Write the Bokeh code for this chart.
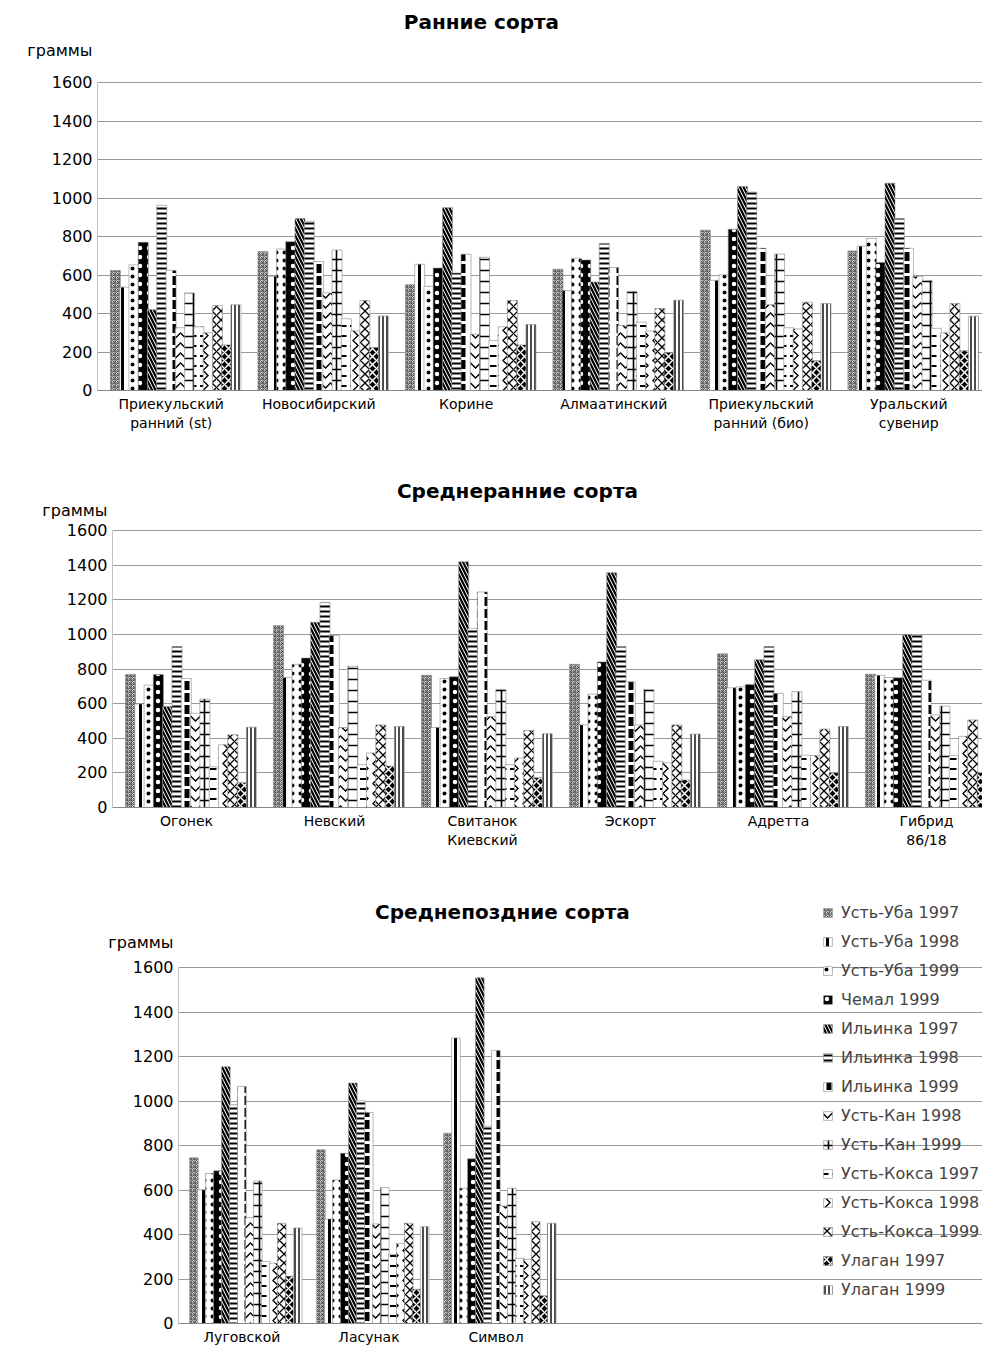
from bokeh.plotting import figure
from bokeh.models import Range1d, Label, Legend, LegendItem, FixedTicker, ColumnDataSource
from bokeh.transform import dodge
from bokeh.embed import file_html
from bokeh.resources import INLINE

series = ["Усть-Уба 1997", "Усть-Уба 1998", "Усть-Уба 1999", "Чемал 1999",
          "Ильинка 1997", "Ильинка 1998", "Ильинка 1999", "Усть-Кан 1998",
          "Усть-Кан 1999", "Усть-Кокса 1997", "Усть-Кокса 1998", "Усть-Кокса 1999",
          "Улаган 1997", "Улаган 1999"]

# --- Ранние сорта ---
early_cats = ["Приекульский\nранний (st)", "Новосибирский", "Корине", "Алмаатинский",
              "Приекульский\nранний (био)", "Уральский\nсувенир"]
early_priek_st = [624, 537, 653, 770, 420, 962, 624, 326, 507, 331, 300, 441, 237, 445]
early_novosib = [722, 593, 735, 773, 893, 879, 670, 507, 730, 373, 310, 467, 223, 387]
early_korine = [550, 656, 541, 636, 950, 610, 708, 292, 692, 260, 331, 467, 237, 343]
early_almaat = [630, 519, 687, 678, 563, 764, 639, 338, 515, 355, 309, 426, 197, 469]
early_priek_bio = [833, 572, 601, 838, 1060, 1031, 739, 446, 709, 326, 320, 459, 155, 452]
early_ural = [725, 750, 790, 665, 1077, 893, 739, 593, 572, 323, 300, 452, 206, 386]

# --- Среднеранние сорта ---
mid_cats = ["Огонек", "Невский", "Свитанок\nКиевский", "Эскорт", "Адретта", "Гибрид\n86/18"]
mid_ogonek = [768, 598, 707, 768, 583, 930, 745, 544, 626, 235, 362, 420, 143, 464]
mid_nevsky = [1051, 751, 827, 863, 1070, 1184, 993, 462, 816, 248, 315, 477, 239, 468]
mid_svitanok = [764, 462, 745, 755, 1419, 1035, 1245, 525, 682, 248, 286, 445, 172, 426]
mid_eskort = [827, 477, 655, 841, 1356, 930, 726, 477, 682, 267, 258, 477, 159, 424]
mid_adretta = [888, 691, 697, 711, 854, 930, 659, 525, 669, 302, 300, 453, 200, 468]
mid_gibrid = [770, 764, 751, 749, 999, 999, 735, 535, 586, 300, 411, 506, 200, 453]

# --- Среднепоздние сорта ---
late_cats = ["Луговской", "Ласунак", "Символ"]
late_lugovskoy = [746, 602, 675, 687, 1155, 984, 1067, 477, 641, 279, 271, 451, 213, 430]
late_lasunak = [782, 470, 646, 766, 1082, 1003, 950, 448, 612, 311, 360, 451, 154, 436]
late_simvol = [856, 1285, 609, 741, 1556, 888, 1229, 529, 609, 293, 289, 458, 125, 451]

y_ticks = [0, 200, 400, 600, 800, 1000, 1200, 1400, 1600]

# pattern styles per series: (fill, hatch_pattern, hatch_color, hatch_scale, hatch_weight)
styles = [
    ("#dcdcdc", "*", "#555555", 4, 1.0),
    ("white", "|", "black", 9, 3.0),
    ("white", ".", "black", 8, 3.5),
    ("black", ".", "white", 9, 2.5),
    ("white", "\\", "black", 7, 2.2),
    ("white", "-", "black", 5, 2.0),
    ("white", ":", "black", 12, 5.0),
    ("white", "v", "black", 10, 1.4),
    ("white", "+", "black", 11, 1.6),
    ("white", '"', "black", 10, 2.0),
    ("white", ">", "black", 10, 1.4),
    ("white", "x", "black", 9, 1.3),
    ("black", "x", "white", 8, 1.5),
    ("white", "|", "black", 4, 1.4),
]

FONT = "DejaVu Sans"


def make_panel(cats, groups, height, ml, mr, mt, mb, x_end, y_end, title, title_x, title_y,
               gram_y, legend_loc=None):
    p = figure(x_range=Range1d(0, x_end), y_range=Range1d(0, y_end),
               width=982, height=height, output_backend="svg", toolbar_location=None,
               min_border_left=ml, min_border_right=mr, min_border_top=mt,
               min_border_bottom=mb)
    p.outline_line_color = None
    p.xgrid.grid_line_color = None
    p.ygrid.ticker = FixedTicker(ticks=y_ticks)
    p.ygrid.grid_line_color = "#9a9a9a"
    p.ygrid.grid_line_width = 1
    p.yaxis.ticker = FixedTicker(ticks=y_ticks + [gram_y])
    p.yaxis.major_label_overrides = {gram_y: "граммы"}
    p.yaxis.major_label_text_font = FONT
    p.yaxis.major_label_text_font_size = "16px"
    p.yaxis.major_label_text_color = "black"
    p.yaxis.axis_line_color = None
    p.yaxis.major_tick_line_color = None
    p.yaxis.major_tick_out = 0
    p.yaxis.major_tick_in = 0
    p.yaxis.minor_tick_line_color = None
    p.yaxis.major_label_standoff = 5

    centers = [i + 0.5 for i in range(len(cats))]
    p.xaxis.ticker = FixedTicker(ticks=centers)
    p.xaxis.major_label_overrides = {c: name for c, name in zip(centers, cats)}
    p.xaxis.axis_line_color = "#888888"
    p.xaxis.major_tick_line_color = None
    p.xaxis.major_tick_out = 0
    p.xaxis.major_tick_in = 0
    p.xaxis.minor_tick_line_color = None
    p.xaxis.major_label_text_font = FONT
    p.xaxis.major_label_text_font_size = "14px"
    p.xaxis.major_label_text_color = "black"
    p.xaxis.major_label_standoff = 5

    # y axis line only from 0 to 1600
    p.segment(x0=0, y0=0, x1=0, y1=y_ticks[-1], line_color="#888888", line_width=1)

    n = len(series)
    pitch = 0.88 / n
    items = []
    for i, name in enumerate(series):
        vals = [g[i] for g in groups]
        src = ColumnDataSource(dict(x=centers, top=vals))
        fill, hp, hc, hs, hw = styles[i]
        off = -0.41 + (i + 0.5) * pitch
        r = p.vbar(x=dodge("x", off), top="top", bottom=0, width=pitch * 1.08,
                   source=src, fill_color=fill, line_color="#8a8a8a", line_width=0.6,
                   hatch_pattern=hp, hatch_color=hc, hatch_scale=hs, hatch_weight=hw)
        items.append(LegendItem(label=name, renderers=[r]))

    p.add_layout(Label(x=title_x, y=title_y, text=title, text_align="center",
                       text_baseline="middle", text_font=FONT, text_font_style="bold",
                       text_font_size="20px", text_color="black"))
    if legend_loc is not None:
        lg = Legend(items=items, location=legend_loc, orientation="vertical",
                    glyph_width=11, glyph_height=11, label_height=20, spacing=9,
                    padding=0, margin=0, label_standoff=8,
                    label_text_font=FONT, label_text_font_size="16px",
                    background_fill_alpha=0, border_line_color=None)
        p.add_layout(lg, "center")
    return p


# panel 1: frame x 97..982, y 8..390 ; 1600 at y 82
p1 = make_panel(early_cats,
                [early_priek_st, early_novosib, early_korine, early_almaat, early_priek_bio, early_ural],
                453, 97, 0, 8, 63, 885 / 147.5, 382 / 0.1925,
                "Ранние сорта", 2.603, 1912, 1766)
# panel 2: frame x 112..982, y 470..807 ; 1600 at y 530
p2 = make_panel(mid_cats,
                [mid_ogonek, mid_nevsky, mid_svitanok, mid_eskort, mid_adretta, mid_gibrid],
                427, 112, 0, 17, 73, 870 / 148.0, 337 / 0.173125,
                "Среднеранние сорта", 2.736, 1831, 1716)
# panel 3: frame x 178..982, y 896..1326 ; 1600 at y 968
p3 = make_panel(late_cats,
                [late_lugovskoy, late_lasunak, late_simvol],
                467, 178, 0, 16, 21, 804 / 127.0, 430 / 0.22375,
                "Среднепоздние сорта", 2.551, 1850, 1716, legend_loc=(644, 24))

open("out.html", "w").write(file_html([p1, p2, p3], INLINE))
